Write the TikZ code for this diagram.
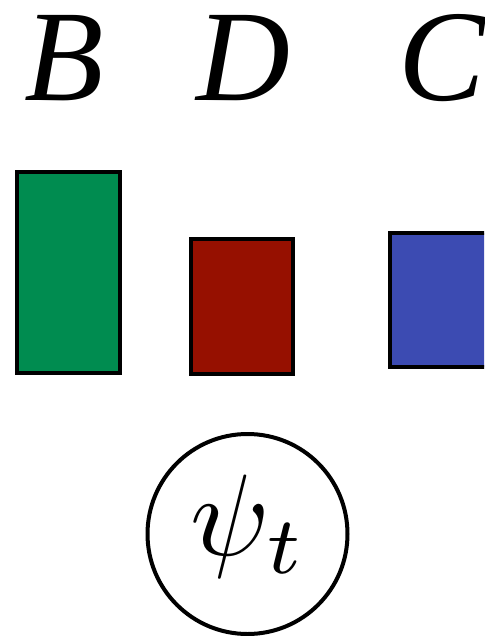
\documentclass[tikz,border=0pt]{standalone}
\usepackage{fontspec}
\usepackage{graphicx}
\newfontfamily\timesit{Liberation Serif}[ItalicFont=* Italic]
\definecolor{bgreen}{RGB}{0,140,80}
\definecolor{dred}{RGB}{150,16,0}
\definecolor{mblue}{RGB}{60,75,178}
\begin{document}
\begin{tikzpicture}[x=0.02cm,y=-0.02cm,
  bar/.style={draw=black,line width=4.5*0.02cm},
  lbl/.style={font=\fontsize{74}{80}\selectfont\timesit\itshape,inner sep=0pt,anchor=base}]
\useasboundingbox (0,0) rectangle (484,636);
\begin{scope}
\clip (0,0) rectangle (484,636);
\node[lbl] (B) at (64,100) {B};
\node[lbl] (D) at (243,100) {D};
\node[lbl] (C) at (442,100) {C};
\filldraw[bar,fill=bgreen] (17,172) rectangle (120,373);
\filldraw[bar,fill=dred] (191,239) rectangle (293,374);
\filldraw[bar,fill=mblue] (390,233) rectangle (500,367);
\node[draw,circle,line width=4*0.02cm,minimum size=200*0.02cm,inner sep=0pt] (psi) at (247.5,534) {};
\node[inner sep=0pt] (psil) at (249,527) {\scalebox{6.6}{$\psi_t$}};
\end{scope}
\end{tikzpicture}
\end{document}
